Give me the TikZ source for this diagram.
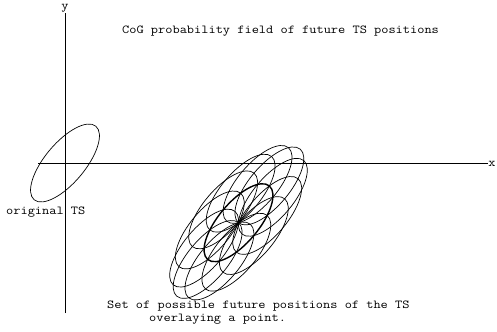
\documentclass[tikz,border=0pt]{standalone}
\usepackage{fontspec}
\setmonofont{Latin Modern Mono}[FakeStretch=1.15]
\begin{document}
\begin{tikzpicture}[x=1bp,y=1bp,
  thinline/.style={line width=0.7pt},
  boldline/.style={line width=1.4pt},
  lbl/.style={font=\ttfamily\fontsize{12.2}{14}\selectfont, inner sep=0pt}]
\useasboundingbox (0,0) rectangle (497,331);
% axes
\coordinate (xs) at (38,168);
\coordinate (xe) at (488,168);
\coordinate (ys) at (65,18);
\coordinate (ye) at (65,318);
\coordinate (O) at (65,168);
\coordinate (P) at (238.5,108.3);
\draw[thinline] (xs) -- (xe);
\draw[thinline] (ys) -- (ye);
\node[lbl, anchor=base] (ylab) at (65,321.5) {y};
\node[lbl, anchor=base] (xlab) at (492,165) {x};
% original TS
\draw[thinline, rotate around={50:(O)}] (O) ellipse [x radius=48, y radius=20];
% future positions
\begin{scope}[shift={(P)}, rotate=50]
  \foreach \t in {0,30,...,330}
    \draw[thinline] ({-48*cos(\t)},{-20*sin(\t)}) ellipse [x radius=48, y radius=20];
  \draw[boldline] (0,0) ellipse [x radius=48, y radius=20];
\end{scope}
% texts
\node[lbl, anchor=base west] (title) at (122,297.7) {CoG probability field of future TS positions};
\node[lbl, anchor=base west] (orig) at (6,117) {original TS};
\node[lbl, anchor=base west] (set1) at (107,22.7) {Set of possible future positions of the TS};
\node[lbl, anchor=base west] (set2) at (149,10) {overlaying a point.};
\end{tikzpicture}
\end{document}
